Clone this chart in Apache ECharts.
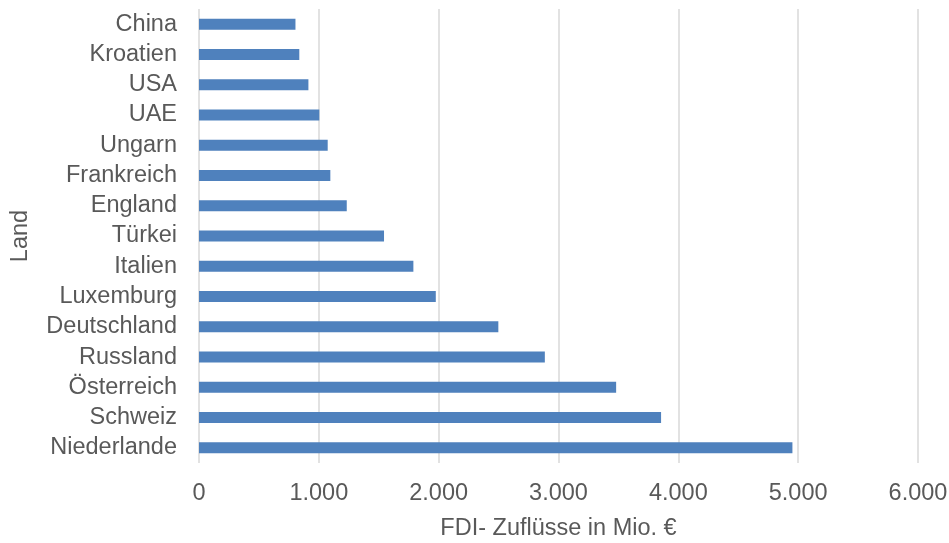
<!DOCTYPE html>
<html>
<head>
<meta charset="utf-8">
<title>FDI-Zuflüsse nach Land</title>
<script src="https://cdn.jsdelivr.net/npm/echarts@6/dist/echarts.min.js"></script>
<style>
  html, body { margin: 0; padding: 0; background: #ffffff; }
  #chart { width: 949px; height: 543px; }
</style>
</head>
<body>
<div id="chart"></div>
<script>
// Countries, listed from top to bottom
const countries = ['China', 'Kroatien', 'USA', 'UAE', 'Ungarn', 'Frankreich', 'England', 'Türkei',
  'Italien', 'Luxemburg', 'Deutschland', 'Russland', 'Österreich', 'Schweiz', 'Niederlande'];

// FDI inflows in million euros
const inflows = [805, 837, 913, 1004, 1074, 1096, 1233, 1544,
  1789, 1976, 2498, 2886, 3481, 3856, 4952];

// Value axis range and step
const axisMin = 0;
const axisMax = 6000;
const axisStep = 1000;

const valueAxisTitle = 'FDI- Zuflüsse in Mio. €';
const categoryAxisTitle = 'Land';

// German thousands separator
function formatThousands(v) {
  return String(Math.round(v)).replace(/\B(?=(\d{3})+(?!\d))/g, '.');
}

const textColor = '#595959';
const fontFamily = '"Liberation Sans", Arial, sans-serif';
const fontSize = 23.5;

const chart = echarts.init(document.getElementById('chart'), null, { renderer: 'canvas' });

chart.setOption({
  animation: false,
  backgroundColor: '#ffffff',
  grid: { left: 199, right: 31, top: 9, bottom: 80, containLabel: false, outerBoundsMode: 'none' },
  xAxis: {
    type: 'value',
    min: axisMin,
    max: axisMax,
    interval: axisStep,
    name: valueAxisTitle,
    nameLocation: 'middle',
    nameGap: 54,
    nameMoveOverlap: false,
    nameTextStyle: { color: textColor, fontSize: fontSize, fontFamily: fontFamily },
    axisLine: { show: false },
    axisTick: { show: false },
    axisLabel: {
      color: textColor,
      fontSize: fontSize,
      fontFamily: fontFamily,
      margin: 19,
      hideOverlap: false,
      formatter: formatThousands
    },
    splitLine: { show: true, lineStyle: { color: '#d9d9d9', width: 1.5 } }
  },
  yAxis: {
    type: 'category',
    data: countries,
    inverse: true,
    name: categoryAxisTitle,
    nameLocation: 'middle',
    nameGap: 166,
    nameRotate: 90,
    nameMoveOverlap: false,
    nameTextStyle: { color: textColor, fontSize: fontSize, fontFamily: fontFamily },
    axisLine: { show: false },
    axisTick: { show: false },
    axisLabel: {
      color: textColor,
      fontSize: fontSize,
      fontFamily: fontFamily,
      margin: 22,
      interval: 0,
      hideOverlap: false
    },
    splitLine: { show: false }
  },
  series: [{
    type: 'bar',
    data: inflows,
    barWidth: 11,
    itemStyle: { color: '#4F81BD' },
    emphasis: { disabled: true }
  }]
});
</script>
</body>
</html>
